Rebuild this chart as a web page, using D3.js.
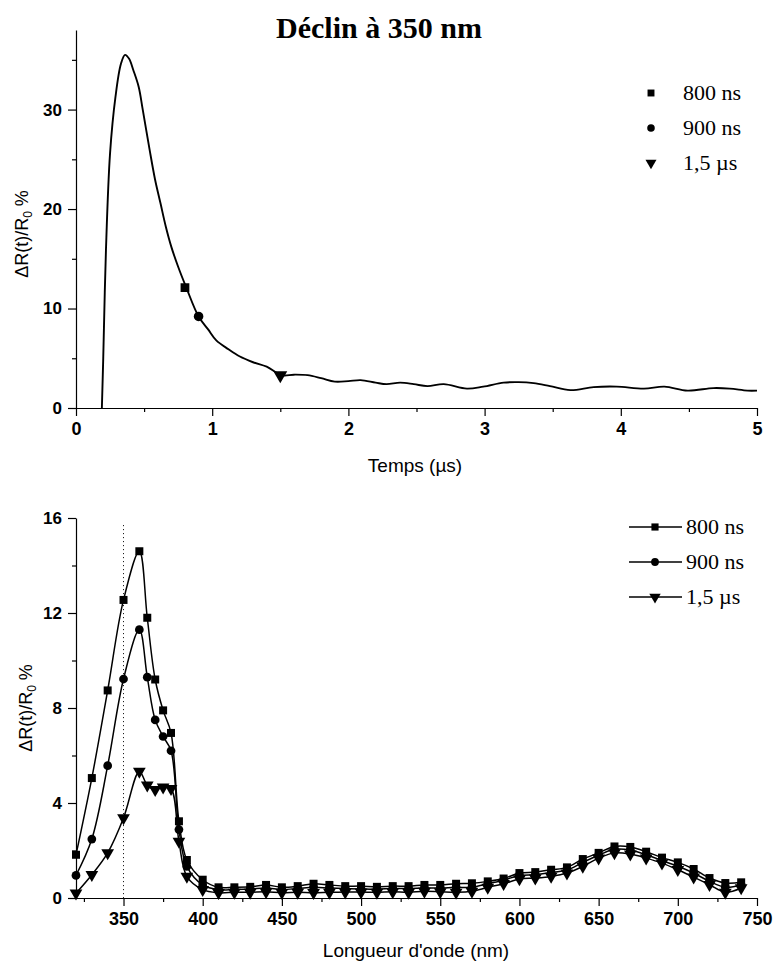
<!DOCTYPE html>
<html>
<head>
<meta charset="utf-8">
<script src="https://cdn.jsdelivr.net/npm/d3@7"></script>
<style>
  body { margin: 0; background: #fff; }
  .tick text { font-family: "Liberation Sans", Arial, sans-serif; font-weight: bold; font-size: 17px; }
  .axis path, .axis line { stroke: #000; stroke-width: 1.2; }
</style>
</head>
<body>
<script>
// top panel : decay at 350 nm
var decayTime = [0.19, 0.20, 0.22, 0.25, 0.29, 0.33, 0.36, 0.39, 0.42, 0.46, 0.49, 0.54, 0.58, 0.62, 0.66, 0.70,
                 0.75, 0.81, 0.90, 0.97, 1.03, 1.12, 1.20, 1.30, 1.40, 1.51, 1.60, 1.70, 1.80, 1.90, 2.00, 2.09,
                 2.20, 2.28, 2.38, 2.48, 2.58, 2.70, 2.87, 2.99, 3.14, 3.25, 3.36, 3.48, 3.63, 3.80, 3.97, 4.17,
                 4.32, 4.49, 4.68, 4.80, 4.93, 5.00];
var decayValue = [0, 5, 15.9, 25.6, 31.3, 34.6, 35.5, 35.1, 34.0, 32.3, 30.0, 26.0, 23.0, 20.6, 18.2, 16.2,
                  14.2, 12.1, 9.2, 7.9, 6.8, 5.9, 5.2, 4.6, 4.15, 3.3, 3.35, 3.3, 3.0, 2.65, 2.7, 2.8,
                  2.55, 2.4, 2.55, 2.4, 2.2, 2.4, 1.95, 2.15, 2.55, 2.6, 2.5, 2.2, 1.8, 2.1, 2.15, 1.95,
                  2.15, 1.75, 2.0, 1.95, 1.75, 1.75];
var markTime = [0.8, 0.9, 1.5];
var markValue = [12.1, 9.2, 3.3];

var seriesNames = ["800 ns", "900 ns", "1,5 \u00b5s"];

// bottom panel : spectra
var wavelength = [320, 330, 340, 350, 360, 365, 370, 375, 380, 385, 390,
                  400, 410, 420, 430, 440, 450, 460, 470, 480, 490, 500, 510, 520, 530, 540, 550, 560, 570, 580,
                  590, 600, 610, 620, 630, 640, 650, 660, 670, 680, 690, 700, 710, 720, 730, 740];
var s800 = [1.82, 5.05, 8.74, 12.55, 14.6, 11.8, 9.2, 7.9, 6.95, 3.23, 1.6,
            0.77, 0.45, 0.45, 0.47, 0.55, 0.45, 0.5, 0.6, 0.55, 0.5, 0.5, 0.47, 0.5, 0.5, 0.55, 0.55, 0.6, 0.62, 0.7,
            0.82, 1.05, 1.09, 1.19, 1.29, 1.64, 1.9, 2.17, 2.15, 1.95, 1.7, 1.5, 1.22, 0.84, 0.63, 0.66];
var s900 = [0.95, 2.48, 5.57, 9.22, 11.3, 9.3, 7.5, 6.8, 6.2, 2.88, 1.33,
            0.55, 0.35, 0.36, 0.38, 0.42, 0.36, 0.4, 0.45, 0.42, 0.4, 0.38, 0.37, 0.4, 0.4, 0.42, 0.42, 0.45, 0.45, 0.6,
            0.75, 0.95, 0.98, 1.07, 1.18, 1.5, 1.8, 2.05, 2.02, 1.82, 1.58, 1.33, 1.05, 0.7, 0.45, 0.55];
var s1500 = [0.2, 0.98, 1.9, 3.37, 5.33, 4.75, 4.56, 4.67, 4.6, 2.38, 0.91,
             0.35, 0.22, 0.24, 0.24, 0.26, 0.22, 0.24, 0.22, 0.24, 0.25, 0.25, 0.24, 0.26, 0.24, 0.28, 0.26, 0.24, 0.28, 0.45,
             0.6, 0.8, 0.84, 0.91, 1.05, 1.33, 1.68, 1.9, 1.85, 1.68, 1.47, 1.19, 0.88, 0.56, 0.24, 0.42];

var w = 775, h = 964;
var left = 76, right = 757;

var svg = d3.select("body").append("svg")
    .attr("width", w)
    .attr("height", h);

var symbols = [d3.symbolSquare, d3.symbolCircle, d3.symbolTriangle];
var symSize = [64, 60, 70];
function marker(g, i, x, y, scale) {
  var k = scale || 1;
  g.append("path")
   .attr("d", d3.symbol().type(symbols[i]).size(symSize[i] * k)())
   .attr("transform", "translate(" + x + "," + y + ")" + (i == 2 ? " rotate(180)" : ""))
   .attr("fill", "#000");
}

// ---------- top panel
var xTop = d3.scaleLinear().domain([0, 5]).range([left, right]);
var yTop = d3.scaleLinear().domain([0, 38]).range([408, 30]);

svg.append("g").attr("class", "axis")
   .attr("transform", "translate(0,408)")
   .call(d3.axisBottom(xTop).tickValues(d3.range(0.5, 5, 1)).tickSize(4).tickFormat(""))
   .call(g => g.select(".domain").remove());
svg.append("g").attr("class", "axis")
   .attr("transform", "translate(0,408)")
   .call(d3.axisBottom(xTop).ticks(5).tickSize(8).tickSizeOuter(0).tickPadding(6).tickFormat(d3.format("d")))
   .call(g => g.selectAll(".tick text").style("font-size", "18px"));

svg.append("g").attr("class", "axis")
   .attr("transform", "translate(" + left + ",0)")
   .call(d3.axisLeft(yTop).tickValues([5, 15, 25, 35]).tickSize(4).tickFormat(""))
   .call(g => g.select(".domain").remove());
svg.append("g").attr("class", "axis")
   .attr("transform", "translate(" + left + ",0)")
   .call(d3.axisLeft(yTop).tickValues([0, 10, 20, 30]).tickSize(8).tickSizeOuter(0).tickPadding(6));

var decay = decayTime.map((t, i) => [t, decayValue[i]]);
svg.append("path")
   .datum(decay)
   .attr("fill", "none")
   .attr("stroke", "#000")
   .attr("stroke-width", 1.9)
   .attr("d", d3.line().x(d => xTop(d[0])).y(d => yTop(d[1])).curve(d3.curveCatmullRom.alpha(0.5)));

markTime.forEach(function(t, i) {
  marker(svg, i, xTop(t), yTop(markValue[i]), 1.2);
});

svg.append("text")
   .attr("x", 379).attr("y", 38)
   .attr("text-anchor", "middle")
   .attr("font-family", "Liberation Serif, Times New Roman, serif")
   .attr("font-weight", "bold")
   .attr("font-size", "30px")
   .text("D\u00e9clin \u00e0 350 nm");

seriesNames.forEach(function(name, i) {
  var y = 93 + i * 35;
  marker(svg, i, 651, y, 0.75);
  svg.append("text")
     .attr("x", 683).attr("y", y + 7)
     .attr("font-family", "Liberation Serif, Times New Roman, serif")
     .attr("font-size", "22px")
     .text(name);
});

svg.append("text")
   .attr("x", 415).attr("y", 472)
   .attr("text-anchor", "middle")
   .attr("font-family", "Liberation Sans, Arial, sans-serif")
   .attr("font-size", "19px")
   .text("Temps (\u00b5s)");

function yLabel(x, y) {
  var t = svg.append("text")
     .attr("transform", "translate(" + x + "," + y + ") rotate(-90)")
     .attr("text-anchor", "middle")
     .attr("font-family", "Liberation Sans, Arial, sans-serif")
     .attr("font-size", "18px");
  t.append("tspan").text("\u0394R(t)/R");
  t.append("tspan").attr("font-size", "12px").attr("dy", 4).text("0");
  t.append("tspan").attr("dy", -4).text(" %");
}
yLabel(28, 234);

// ---------- bottom panel
var xBot = d3.scaleLinear().domain([320, 750]).range([left, right]);
var yBot = d3.scaleLinear().domain([0, 16]).range([898, 518]);

svg.append("g").attr("class", "axis")
   .attr("transform", "translate(0,898)")
   .call(d3.axisBottom(xBot).tickValues(d3.range(325, 750, 25).filter(v => v % 50 != 0)).tickSize(4).tickFormat(""))
   .call(g => g.select(".domain").remove());
svg.append("g").attr("class", "axis")
   .attr("transform", "translate(0,898)")
   .call(d3.axisBottom(xBot).tickValues(d3.range(350, 751, 50)).tickSize(8).tickSizeOuter(0).tickPadding(6))
   .call(g => g.selectAll(".tick text").style("font-size", "18px"));

svg.append("g").attr("class", "axis")
   .attr("transform", "translate(" + left + ",0)")
   .call(d3.axisLeft(yBot).tickValues([2, 6, 10, 14]).tickSize(4).tickFormat(""))
   .call(g => g.select(".domain").remove());
svg.append("g").attr("class", "axis")
   .attr("transform", "translate(" + left + ",0)")
   .call(d3.axisLeft(yBot).tickValues([0, 4, 8, 12, 16]).tickSize(8).tickSizeOuter(0).tickPadding(6));

// dotted line at 350 nm
svg.append("line")
   .attr("x1", xBot(350)).attr("x2", xBot(350))
   .attr("y1", yBot(15.7)).attr("y2", yBot(0))
   .attr("stroke", "#000")
   .attr("stroke-width", 1)
   .attr("stroke-dasharray", "1,3");

var spectra = [s800, s900, s1500];
var line = d3.line().x(d => xBot(d[0])).y(d => yBot(d[1])).curve(d3.curveCatmullRom.alpha(0.5));
spectra.forEach(function(s, i) {
  var pts = wavelength.map((wl, j) => [wl, s[j]]);
  svg.append("path")
     .datum(pts)
     .attr("fill", "none")
     .attr("stroke", "#000")
     .attr("stroke-width", 1.5)
     .attr("d", line);
  pts.forEach(function(p) { marker(svg, i, xBot(p[0]), yBot(p[1]), 1); });
});

seriesNames.forEach(function(name, i) {
  var y = 527 + i * 35;
  svg.append("line")
     .attr("x1", 629).attr("x2", 682)
     .attr("y1", y).attr("y2", y)
     .attr("stroke", "#000").attr("stroke-width", 1.5);
  marker(svg, i, 655, y, 0.8);
  svg.append("text")
     .attr("x", 686).attr("y", y + 7)
     .attr("font-family", "Liberation Serif, Times New Roman, serif")
     .attr("font-size", "22px")
     .text(name);
});

svg.append("text")
   .attr("x", 416).attr("y", 957)
   .attr("text-anchor", "middle")
   .attr("font-family", "Liberation Sans, Arial, sans-serif")
   .attr("font-size", "19px")
   .text("Longueur d'onde (nm)");

yLabel(32, 708);
</script>
</body>
</html>
